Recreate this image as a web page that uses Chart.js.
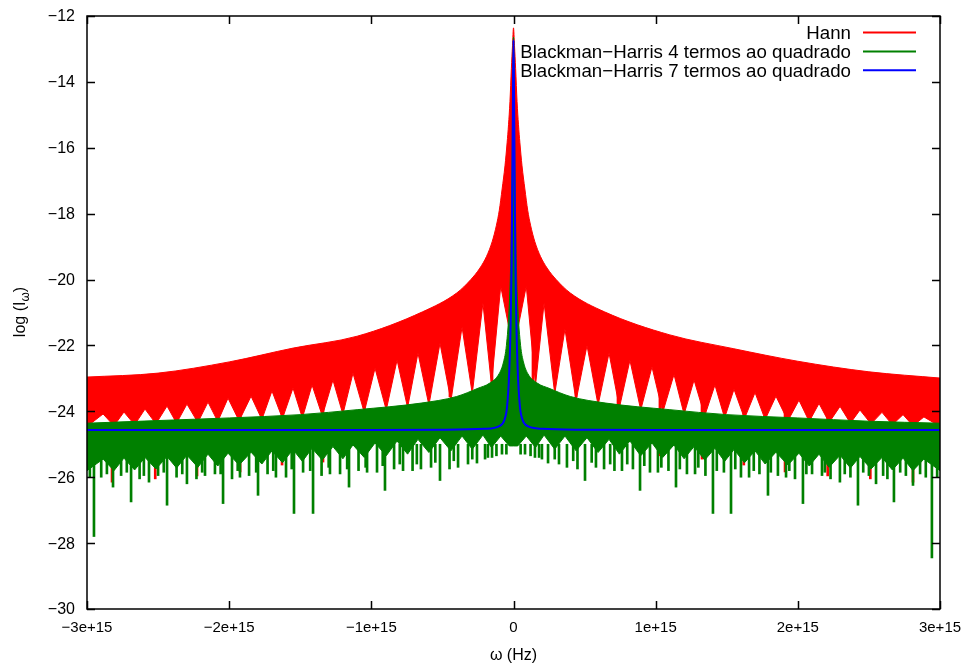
<!DOCTYPE html>
<html>
<head>
<meta charset="utf-8">
<script src="https://cdn.jsdelivr.net/npm/chart.js@4.4.1/dist/chart.umd.min.js"></script>
<style>
html, body { margin: 0; padding: 0; background: #fff; }
#wrap { width: 972px; height: 671px; }
</style>
</head>
<body>
<div id="wrap"><canvas id="grafico" width="972" height="671"></canvas></div>
<script>
/* eixo x em unidades de 1e15 Hz */
var xTicks = [-3, -2, -1, 0, 1, 2, 3];
var xTickLabels = ['−3e+15', '−2e+15', '−1e+15', '0', '1e+15', '2e+15', '3e+15'];
var yTicks = [-30, -28, -26, -24, -22, -20, -18, -16, -14, -12];
var yTickLabels = ['−30', '−28', '−26', '−24', '−22', '−20', '−18', '−16', '−14', '−12'];

var labels = ['Hann', 'Blackman−Harris 4 termos ao quadrado', 'Blackman−Harris 7 termos ao quadrado'];

/* Hann: envelope superior */
var hannTopX = [-3, -2.5, -2, -1.55, -1.1, -0.64, -0.4, -0.3, -0.236, -0.19, -0.15, -0.12, -0.1, -0.08, -0.06, -0.045,
                -0.035, -0.025, -0.015, -0.007, 0,
                0.007, 0.015, 0.025, 0.035, 0.045, 0.06, 0.08, 0.1, 0.12, 0.15, 0.19, 0.236, 0.3, 0.4, 0.64,
                1.1, 1.55, 2, 2.5, 3];
var hannTopY = [-22.96, -22.84, -22.5, -22.08, -21.72, -20.98, -20.41, -20.0, -19.65, -19.3, -18.85, -18.35, -17.9, -17.25, -16.55, -15.85,
                -15.3, -14.6, -13.6, -12.9, -12.36,
                -12.9, -13.6, -14.6, -15.3, -15.85, -16.55, -17.25, -17.9, -18.35, -18.85, -19.3, -19.65, -20.0, -20.41, -20.98,
                -21.68, -22.1, -22.48, -22.8, -22.99];

/* Hann: borda inferior com os arcos */
var hannLowX = [-3, -2.887, -2.81, -2.74, -2.665, -2.592, -2.515, -2.437, -2.37, -2.297, -2.22, -2.149, -2.08, -2.008,
                -1.93, -1.846, -1.77, -1.699, -1.625, -1.551, -1.485, -1.417, -1.345, -1.27, -1.2, -1.129, -1.05,
                -0.974, -0.895, -0.819, -0.745, -0.672, -0.595, -0.517, -0.44, -0.362, -0.29, -0.215, -0.155, -0.09,
                -0.03, 0, 0.03,
                0.09, 0.155, 0.215, 0.29, 0.362, 0.44, 0.517, 0.595, 0.672, 0.745, 0.819, 0.895, 0.974, 1.05,
                1.129, 1.2, 1.27, 1.345, 1.417, 1.485, 1.551, 1.625, 1.699, 1.77, 1.846, 1.93, 2.008, 2.08, 2.149,
                2.22, 2.297, 2.37, 2.437, 2.515, 2.592, 2.665, 2.74, 2.81, 2.887, 3];
var hannLowY = [-24.46, -24.08, -24.44, -24.02, -24.41, -23.93, -24.38, -23.84, -24.36, -23.78, -24.34, -23.72, -24.31, -23.6,
                -24.29, -23.54, -24.25, -23.38, -24.22, -23.29, -24.2, -23.2, -24.14, -23.05, -24.09, -22.84, -24.03,
                -22.69, -23.96, -22.44, -23.89, -22.23, -23.81, -21.93, -23.68, -21.44, -23.47, -20.71, -23.2, -20.2,
                -21.5, -21.5, -21.5,
                -20.2, -23.2, -20.71, -23.47, -21.5, -23.68, -22.0, -23.81, -22.23, -23.89, -22.45, -23.96, -22.65, -24.03,
                -22.88, -24.09, -23.05, -24.14, -23.2, -24.2, -23.33, -24.22, -23.43, -24.25, -23.54, -24.29, -23.66, -24.31, -23.76,
                -24.34, -23.85, -24.36, -23.96, -24.38, -24.03, -24.41, -24.1, -24.44, -24.17, -24.46];

/* Hann: riscos que descem */
var hannSpikeX = [-2.824, -2.52, -2.226, -1.923, -1.628, -1.34, -1.05, -0.606, -0.447, -0.306, -0.151,
                  0.137, 0.306, 0.44, 0.594, 0.735, 1.03, 1.326, 1.62, 1.91, 2.21, 2.51, 2.81];
var hannSpikeTop = [-23.3, -23.2, -23.1, -22.9, -22.7, -22.5, -22.2, -21.4, -21.0, -20.5, -19.8,
                    -19.8, -20.5, -21.0, -21.3, -21.5, -21.9, -22.3, -22.6, -22.9, -23.1, -23.2, -23.3];
var hannSpikeLow = [-26.15, -26.05, -25.96, -25.84, -25.63, -25.54, -25.35, -22.96, -23.56, -22.05, -23.1,
                    -23.1, -22.05, -23.56, -22.96, -23.8, -25.35, -25.45, -25.63, -25.84, -25.96, -26.05, -26.15];

/* Blackman-Harris 4 termos */
var bh4TopX = [-3, -2.5, -2, -1.5, -1.1, -0.65, -0.4, -0.25, -0.17, -0.1, -0.07, -0.05, -0.03, -0.02, -0.01, 0,
               0.01, 0.02, 0.03, 0.05, 0.07, 0.1, 0.17, 0.25, 0.4, 0.65, 1.1, 1.5, 2, 2.5, 3];
var bh4TopY = [-24.36, -24.28, -24.2, -24.1, -23.95, -23.75, -23.55, -23.3, -23.15, -22.85, -22.5, -22.0, -20.8, -19.5, -16.5, -12.64,
               -16.5, -19.5, -20.8, -22.0, -22.5, -22.85, -23.15, -23.3, -23.55, -23.75, -23.95, -24.1, -24.2, -24.3, -24.36];

var bh4LowX = [-3, -2.887, -2.81, -2.74, -2.665, -2.592, -2.515, -2.437, -2.37, -2.297, -2.22, -2.149, -2.08, -2.008,
               -1.93, -1.846, -1.77, -1.699, -1.625, -1.551, -1.485, -1.417, -1.345, -1.27, -1.2, -1.129, -1.05,
               -0.974, -0.895, -0.819, -0.745, -0.672, -0.595, -0.517, -0.44, -0.362, -0.29, -0.215, -0.155, -0.09,
               -0.03, 0, 0.03,
               0.09, 0.155, 0.215, 0.29, 0.362, 0.44, 0.517, 0.595, 0.672, 0.745, 0.819, 0.895, 0.974, 1.05,
               1.129, 1.2, 1.27, 1.345, 1.417, 1.485, 1.551, 1.625, 1.699, 1.77, 1.846, 1.93, 2.008, 2.08, 2.149,
               2.22, 2.297, 2.37, 2.437, 2.515, 2.592, 2.665, 2.74, 2.81, 2.887, 3];
var bh4LowY = [-25.8, -25.45, -25.8, -25.42, -25.78, -25.4, -25.75, -25.37, -25.72, -25.33, -25.7, -25.3, -25.66, -25.27,
               -25.63, -25.24, -25.6, -25.2, -25.56, -25.16, -25.52, -25.12, -25.48, -25.07, -25.44, -25.02, -25.4,
               -24.96, -25.35, -24.9, -25.3, -24.85, -25.25, -24.8, -25.2, -24.75, -25.15, -24.72, -25.1, -24.75,
               -25.05, -25.05, -25.05,
               -24.75, -25.1, -24.72, -25.15, -24.75, -25.2, -24.8, -25.25, -24.85, -25.3, -24.9, -25.35, -24.96, -25.4,
               -25.02, -25.44, -25.07, -25.48, -25.12, -25.52, -25.16, -25.56, -25.2, -25.6, -25.24, -25.63, -25.27, -25.66, -25.3,
               -25.7, -25.33, -25.72, -25.37, -25.75, -25.4, -25.78, -25.42, -25.8, -25.45, -25.8];

var bh4SpikeX = [-2.951, -2.817, -2.69, -2.564, -2.437, -2.297, -2.17, -2.043, -1.924, -1.797, -1.671, -1.544, -1.41,
                 -1.291, -1.157, -1.03, -0.904, -0.777, -0.651, -0.517, -0.39, -0.257, -0.151, -0.081,
                 -2.9, -2.76, -2.63, -2.5, -2.37, -2.23, -2.1, -1.98, -1.86, -1.73, -1.6, -1.48, -1.35, -1.22,
                 -1.09, -0.96, -0.84, -0.71, -0.58, -0.45, -0.32, -0.2, -0.12, -0.05,
                 -2.98, -2.86, -2.72, -2.6, -2.46, -2.33, -2.19, -2.06, -1.94, -1.81, -1.69, -1.56, -1.43, -1.3,
                 -1.17, -1.04, -0.92, -0.8, -0.68, -0.55, -0.42, -0.29, -0.18,
                 0.081, 0.151, 0.243, 0.376, 0.503, 0.637, 0.763, 0.89, 1.016, 1.143, 1.277, 1.403, 1.53,
                 1.657, 1.79, 1.917, 2.036, 2.17, 2.296, 2.423, 2.55, 2.676, 2.81, 2.943,
                 0.05, 0.12, 0.2, 0.32, 0.45, 0.58, 0.71, 0.84, 0.96, 1.09, 1.22, 1.35, 1.48, 1.6,
                 1.73, 1.86, 1.98, 2.1, 2.23, 2.37, 2.5, 2.63, 2.76, 2.9,
                 0.18, 0.29, 0.42, 0.55, 0.68, 0.8, 0.92, 1.04, 1.17, 1.3, 1.43, 1.56, 1.69, 1.81,
                 1.94, 2.06, 2.19, 2.33, 2.46, 2.6, 2.72, 2.86, 2.98];
var bh4SpikeLow = [-27.8, -26.3, -26.75, -26.15, -26.85, -26.2, -25.95, -26.8, -26.0, -26.55, -26.0, -27.1, -27.1,
                   -25.9, -26.3, -25.85, -26.4, -25.8, -25.75, -26.1, -25.7, -25.57, -25.4, -25.3,
                   -26.0, -25.95, -26.05, -25.95, -26.0, -26.05, -25.9, -26.05, -25.95, -25.9, -26.0, -25.85, -25.95, -25.9,
                   -25.8, -25.85, -25.75, -25.8, -25.7, -25.75, -25.6, -25.45, -25.35, -25.3,
                   -26.0, -25.9, -25.85, -25.95, -25.85, -25.9, -25.85, -25.9, -25.8, -25.85, -25.8, -25.75, -25.8, -25.7,
                   -25.75, -25.7, -25.65, -25.6, -25.6, -25.55, -25.5, -25.45, -25.4,
                   -25.3, -25.4, -25.57, -25.7, -26.1, -25.75, -25.8, -26.4, -25.85, -26.3, -25.9, -27.1, -27.1,
                   -26.0, -26.55, -26.0, -26.8, -25.95, -26.15, -26.85, -26.2, -26.75, -26.25, -28.45,
                   -25.3, -25.35, -25.45, -25.6, -25.75, -25.7, -25.8, -25.75, -25.85, -25.8, -25.9, -25.95, -25.85, -26.0,
                   -25.9, -25.95, -26.05, -25.9, -26.05, -26.0, -25.95, -26.05, -25.95, -26.0,
                   -25.4, -25.45, -25.5, -25.55, -25.6, -25.6, -25.65, -25.7, -25.75, -25.7, -25.8, -25.75, -25.8, -25.85,
                   -25.8, -25.9, -25.85, -25.9, -25.85, -25.95, -25.85, -25.9, -26.0];
var bh4SpikeTop = -25.0;

/* Blackman-Harris 7 termos */
var bh7X = [-3, -2, -1, -0.5, -0.2, -0.1, -0.065, -0.045, -0.03, -0.02, -0.013, -0.008, -0.004, 0,
            0.004, 0.008, 0.013, 0.02, 0.03, 0.045, 0.065, 0.1, 0.2, 0.5, 1, 2, 3];
var bh7Y = [-24.57, -24.57, -24.57, -24.56, -24.53, -24.45, -24.27, -23.85, -22.8, -21.3, -19.5, -17.0, -14.5, -12.73,
            -14.5, -17.0, -19.5, -21.3, -22.8, -23.85, -24.27, -24.45, -24.53, -24.56, -24.57, -24.57, -24.57];

var RED = '#ff0000', GREEN = '#008000', BLUE = '#0000ff';
var FONT = "'Liberation Sans', Arial, Helvetica, sans-serif";

function pontos(xs, ys) {
    return xs.map(function (x, i) { return { x: x, y: ys[i] }; });
}
function riscos(xs, tops, lows) {
    return xs.map(function (x, i) {
        var t = Array.isArray(tops) ? tops[i] : tops;
        return { x: x, y: [t, lows[i]] };
    });
}

/* moldura com tiques para dentro, como no gnuplot */
var moldura = {
    id: 'moldura',
    afterDatasetsDraw: function (chart) {
        var a = chart.chartArea, ctx = chart.ctx;
        var sx = chart.scales.x, sy = chart.scales.y;
        ctx.save();
        ctx.strokeStyle = '#000';
        ctx.lineWidth = 1.5;
        ctx.beginPath();
        xTicks.forEach(function (v) {
            var px = Math.round(sx.getPixelForValue(v)) + 0.5;
            ctx.moveTo(px, a.bottom); ctx.lineTo(px, a.bottom - 8);
            ctx.moveTo(px, a.top); ctx.lineTo(px, a.top + 8);
        });
        yTicks.forEach(function (v) {
            var py = Math.round(sy.getPixelForValue(v)) + 0.5;
            ctx.moveTo(a.left, py); ctx.lineTo(a.left + 8, py);
            ctx.moveTo(a.right, py); ctx.lineTo(a.right - 8, py);
        });
        ctx.stroke();
        ctx.strokeRect(a.left, a.top, a.right - a.left, a.bottom - a.top);
        ctx.restore();
    }
};

/* legenda no canto superior direito */
var legenda = {
    id: 'legenda',
    afterDraw: function (chart) {
        var ctx = chart.ctx;
        var cores = [RED, GREEN, BLUE];
        ctx.save();
        ctx.font = '18.7px ' + FONT;
        ctx.textAlign = 'right';
        ctx.textBaseline = 'alphabetic';
        ctx.lineWidth = 2;
        labels.forEach(function (txt, i) {
            var y = 32.5 + i * 18.9;
            ctx.fillStyle = '#000';
            ctx.fillText(txt, 851, y + 6.7);
            ctx.strokeStyle = cores[i];
            ctx.beginPath();
            ctx.moveTo(863, y); ctx.lineTo(916, y);
            ctx.stroke();
        });
        ctx.restore();
    }
};

/* titulo do eixo y com subscrito */
var tituloY = {
    id: 'tituloY',
    afterDraw: function (chart) {
        var ctx = chart.ctx;
        ctx.save();
        ctx.translate(21, 312);
        ctx.rotate(-Math.PI / 2);
        ctx.fillStyle = '#000';
        ctx.textBaseline = 'middle';
        ctx.textAlign = 'left';
        ctx.font = '16px ' + FONT;
        var a = 'log (I', b = 'ω', c = ')';
        var wa = ctx.measureText(a).width, wc = ctx.measureText(c).width;
        ctx.font = '12px ' + FONT;
        var wb = ctx.measureText(b).width;
        var x0 = -(wa + wb + wc) / 2;
        ctx.font = '16px ' + FONT;
        ctx.fillText(a, x0, 0);
        ctx.font = '12px ' + FONT;
        ctx.fillText(b, x0 + wa, 5);
        ctx.font = '16px ' + FONT;
        ctx.fillText(c, x0 + wa + wb, 0);
        ctx.restore();
    }
};

var ctx = document.getElementById('grafico');

var grafico = new Chart(ctx, {
    type: 'line',
    data: {
        datasets: [
            { label: labels[2], data: pontos(bh7X, bh7Y), borderColor: BLUE, borderWidth: 2,
              cubicInterpolationMode: 'monotone', fill: false, order: 0 },
            { label: labels[1], data: pontos(bh4TopX, bh4TopY), borderColor: GREEN, backgroundColor: GREEN,
              borderWidth: 1, cubicInterpolationMode: 'monotone', fill: '+1', order: 2 },
            { label: '', data: pontos(bh4LowX, bh4LowY), borderColor: GREEN, borderWidth: 1, fill: false, order: 3 },
            { type: 'bar', label: '', data: riscos(bh4SpikeX, bh4SpikeTop, bh4SpikeLow), backgroundColor: GREEN,
              barThickness: 2, grouped: false, order: 1 },
            { label: labels[0], data: pontos(hannTopX, hannTopY), borderColor: RED, backgroundColor: RED,
              borderWidth: 1, cubicInterpolationMode: 'monotone', fill: '+1', order: 5 },
            { label: '', data: pontos(hannLowX, hannLowY), borderColor: RED, borderWidth: 1, fill: false, order: 6 },
            { type: 'bar', label: '', data: riscos(hannSpikeX, hannSpikeTop, hannSpikeLow), backgroundColor: RED,
              barThickness: 2, grouped: false, order: 4 }
        ]
    },
    options: {
        responsive: false,
        animation: false,
        devicePixelRatio: 1,
        layout: { padding: { left: 0, right: 32, top: 16, bottom: 0 } },
        elements: { point: { radius: 0 }, line: { tension: 0 } },
        plugins: { legend: { display: false }, tooltip: { enabled: false } },
        scales: {
            x: {
                type: 'linear', min: -3, max: 3, offset: false,
                afterBuildTicks: function (s) { s.ticks = xTicks.map(function (v) { return { value: v }; }); },
                afterFit: function (s) { s.height = 62; },
                grid: { display: false }, border: { display: false },
                ticks: { autoSkip: false, maxRotation: 0, padding: 2, color: '#000',
                         font: { family: FONT, size: 15 },
                         callback: function (v, i) { return xTickLabels[i]; } },
                title: { display: true, text: 'ω (Hz)', color: '#000', font: { family: FONT, size: 16 },
                         padding: { top: 0, bottom: 6 } }
            },
            y: {
                type: 'linear', min: -30, max: -12,
                afterBuildTicks: function (s) { s.ticks = yTicks.map(function (v) { return { value: v }; }); },
                afterFit: function (s) { s.width = 87; },
                grid: { display: false }, border: { display: false },
                ticks: { padding: 4, labelOffset: 1, color: '#000', font: { family: FONT, size: 16 },
                         callback: function (v, i) { return yTickLabels[i]; } }
            }
        }
    },
    plugins: [moldura, legenda, tituloY]
});
</script>
</body>
</html>
